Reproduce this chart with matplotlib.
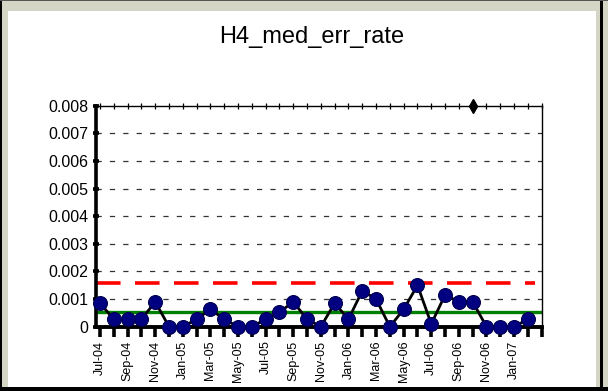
import matplotlib.pyplot as plt
from matplotlib.patches import Rectangle

plt.rcParams['font.family'] = ['Liberation Sans', 'DejaVu Sans']

# monthly median error rate, Jul-04 .. Feb-07
months = ['Jul-04', 'Aug-04', 'Sep-04', 'Oct-04', 'Nov-04', 'Dec-04',
          'Jan-05', 'Feb-05', 'Mar-05', 'Apr-05', 'May-05', 'Jun-05',
          'Jul-05', 'Aug-05', 'Sep-05', 'Oct-05', 'Nov-05', 'Dec-05',
          'Jan-06', 'Feb-06', 'Mar-06', 'Apr-06', 'May-06', 'Jun-06',
          'Jul-06', 'Aug-06', 'Sep-06', 'Oct-06', 'Nov-06', 'Dec-06',
          'Jan-07', 'Feb-07']
err_rate = [0.00085, 0.00027, 0.00027, 0.00027, 0.0009, 0.0,
            0.0, 0.00027, 0.00063, 0.00027, 0.0, 0.0,
            0.00027, 0.00052, 0.0009, 0.00027, 0.0, 0.00085,
            0.00027, 0.0013, 0.001, 0.0, 0.00063, 0.0015,
            0.0001, 0.00115, 0.0009, 0.0009, 0.0, 0.0,
            0.0, 0.00027]
mean_level = 0.00052
upper_limit = 0.0016
off_scale_idx = [27]
off_scale_val = [0.008]

fig = plt.figure(figsize=(6.08, 3.91), dpi=100)
fig.patch.set_facecolor('#d5d5c5')
W, H = 608.0, 391.0

def px_rect(x0, y0, x1, y1, color):
    fig.add_artist(Rectangle((x0 / W, 1 - y1 / H), (x1 - x0) / W, (y1 - y0) / H,
                             transform=fig.transFigure, facecolor=color,
                             edgecolor='none', zorder=-10))

px_rect(8, 11, 596, 387, 'white')
px_rect(0, 0, 2, 391, 'black')
px_rect(0, 387, 608, 391, 'black')
px_rect(600, 0, 603, 391, 'black')
px_rect(0, 0, 608, 1, '#555555')

ax = fig.add_axes([96 / W, 1 - 326.7 / H, (541.7 - 96) / W, (326.7 - 105.7) / H])
ax.set_facecolor('none')

x = list(range(len(months)))
ax.set_xlim(-0.29, 32)
ax.set_ylim(0, 0.008)

for v in [0.001, 0.002, 0.003, 0.004, 0.005, 0.006, 0.007]:
    ax.axhline(v, color='#333333', lw=0.9, dashes=(4.2, 6.5), zorder=1)

ax.axhline(upper_limit, xmax=0.985, color='#ff0000', lw=2.6, dashes=(6.8, 4.0), zorder=2)
ax.axhline(mean_level, color='#008000', lw=2.4, zorder=2)

ax.plot(x, err_rate, color='black', lw=2.0, marker='o', ms=10,
        mfc='#000080', mec='#000050', mew=0.8, zorder=5, clip_on=False)
ax.plot(off_scale_idx, off_scale_val, linestyle='none', marker='d', ms=7,
        color='black', zorder=6, clip_on=False)

ax.spines['top'].set_visible(False)
ax.spines['right'].set_linewidth(1.0)
ax.spines['left'].set_linewidth(2.6)
ax.spines['bottom'].set_linewidth(2.8)

ax.set_yticks([0, 0.001, 0.002, 0.003, 0.004, 0.005, 0.006, 0.007, 0.008])
ax.set_yticklabels(['0', '0.001', '0.002', '0.003', '0.004', '0.005',
                    '0.006', '0.007', '0.008'], fontsize=11.5)
ax.tick_params(axis='y', direction='inout', length=5, width=2.6, pad=3)

ax.set_xticks(list(range(33)))
ax.set_xticklabels([m if i % 2 == 0 else '' for i, m in enumerate(months)] + [''],
                   rotation=90, fontsize=9)
ax.tick_params(axis='x', direction='out', length=7, width=2.6, pad=3)

top = ax.secondary_xaxis('top')
top.set_xticks(list(range(33)))
top.set_xticklabels([])
top.tick_params(direction='inout', length=5, width=0.9)
top.spines['top'].set_linewidth(1.0)

fig.text(312 / W, 1 - 37 / H, 'H4_med_err_rate', ha='center', va='center', fontsize=17)

fig.savefig('out.png', dpi=100, facecolor=fig.get_facecolor())
